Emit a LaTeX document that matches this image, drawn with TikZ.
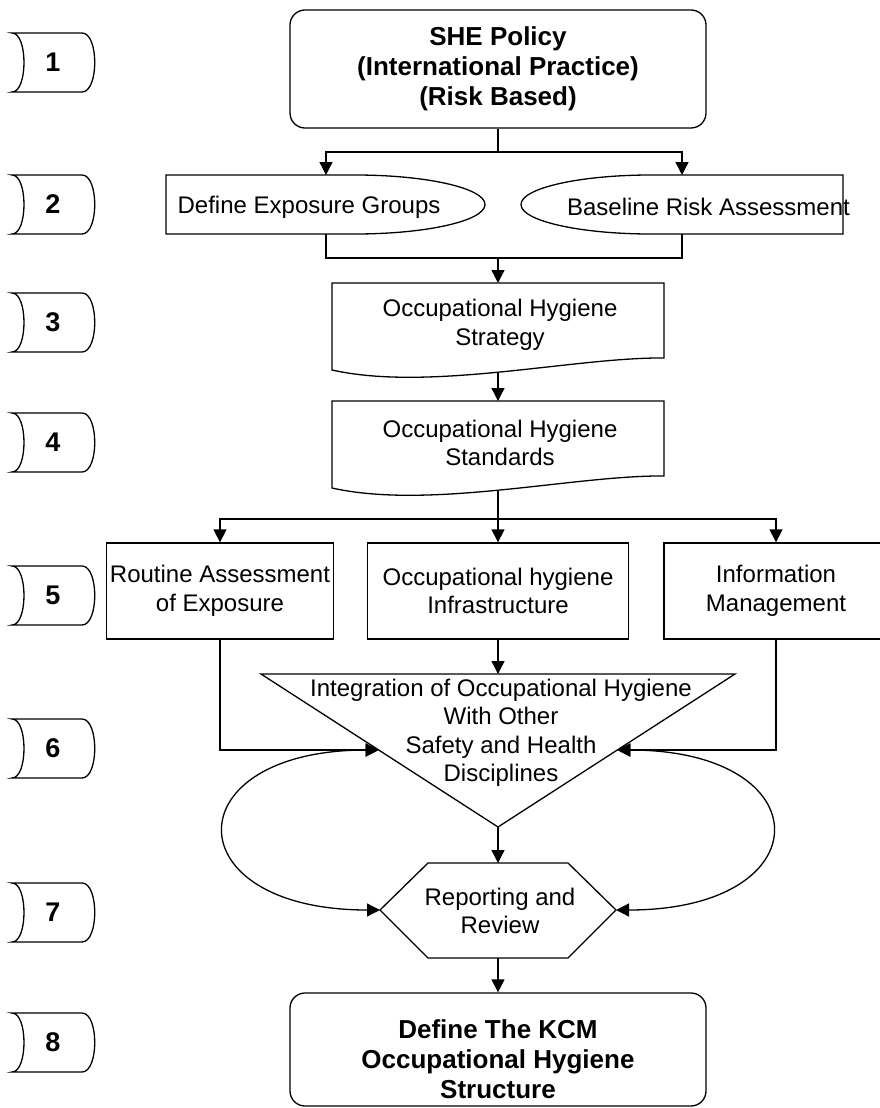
\documentclass[tikz,border=0pt]{standalone}
\usepackage{fontspec}
\setmainfont{Liberation Sans}
\usetikzlibrary{arrows.meta}
\begin{document}
\begin{tikzpicture}[x=1pt,y=-1pt,
  line width=1.3pt, line join=miter,
  arr/.style={-{Triangle[length=13pt,width=13pt]}},
  dbl/.style={{Triangle[length=13pt,width=13pt]}-{Triangle[length=13pt,width=13pt]}},
  body/.style={font=\fontsize{24}{28.5}\selectfont, align=center, inner sep=0pt},
  head/.style={font=\fontsize{26}{30}\selectfont\bfseries, align=center, inner sep=0pt},
  tabnum/.style={font=\fontsize{27}{30}\selectfont\bfseries, inner sep=0pt},
  plainbox/.style={draw, rectangle, inner sep=0pt},
  roundbox/.style={draw, rectangle, rounded corners=15pt, inner sep=0pt},
]
\useasboundingbox (0,0) rectangle (880,1108);
\clip (0,0) rectangle (880,1108);

% step number tabs down the left margin
\foreach \n/\t in {1/33, 2/175, 3/293, 4/413, 5/566, 6/719, 7/883, 8/1013} {
  \draw (12,\t) -- (82,\t) .. controls (99,\t) and (99,\t+59) .. (82,\t+59)
        -- (12,\t+59) .. controls (28,\t+59) and (28,\t) .. (12,\t) -- cycle;
  \node[tabnum] (tab\n) at (53,\t+29.5) {\n};
}

% step 1: policy
\node[roundbox, head, minimum width=416pt, minimum height=118pt] (she) at (498,69)
  {SHE Policy\\(International Practice)\\(Risk Based)};

% step 2: exposure groups and baseline assessment
\draw (166,175) -- (355,175)
  arc[start angle=90, end angle=-90, x radius=130pt, y radius=29.5pt]
  -- (166,234) -- cycle;
\node[body, anchor=west] (deg) at (177,207) {Define Exposure Groups};
\coordinate (degtop) at (326,175);
\coordinate (degbot) at (326,234);

\draw (843,175) -- (651,175)
  arc[start angle=90, end angle=270, x radius=130pt, y radius=29.5pt]
  -- (843,234) -- cycle;
\node[body] (bra) at (708.5,207) {Baseline Risk Assessment};
\coordinate (bratop) at (682,175);
\coordinate (brabot) at (682,234);

\coordinate (split1) at (498,152);
\coordinate (join2) at (498,258);
\draw (she.south) -- (split1);
\draw[arr] (split1) -| (degtop);
\draw[arr] (split1) -| (bratop);
\draw (degbot) |- (join2) -| (brabot);

% steps 3 and 4: document shapes
\draw (332,283) -- (664,283) -- (664,358)
  .. controls (575,357) and (430,392) .. (332,370) -- cycle;
\node[body] (strat) at (500,325) {Occupational Hygiene\\Strategy};
\coordinate (strattop) at (498,283);
\coordinate (stratbot) at (498,372);

\draw (332,401) -- (664,401) -- (664,476)
  .. controls (575,475) and (430,510) .. (332,488) -- cycle;
\node[body] (std) at (500,443) {Occupational Hygiene\\Standards};
\coordinate (stdtop) at (498,401);
\coordinate (stdbot) at (498,490);

\draw[arr] (join2) -- (strattop);
\draw[arr] (stratbot) -- (stdtop);

% step 5: three programme elements
\node[plainbox, body, minimum width=227pt, minimum height=96pt] (routine) at (220,591)
  {Routine Assessment\\of Exposure};
\node[plainbox, body, minimum width=261pt, minimum height=96pt] (infra) at (498,591)
  {Occupational hygiene\\Infrastructure};
\node[plainbox, body, minimum width=224pt, minimum height=96pt] (info) at (776,591)
  {Information\\Management};

\coordinate (split5) at (498,519);
\draw (stdbot) -- (split5);
\draw[arr] (split5) -- (infra.north);
\draw[arr] (split5) -| (routine.north);
\draw[arr] (split5) -| (info.north);

% step 6: integration (inverted triangle)
\coordinate (triTL) at (261,674);
\coordinate (triTR) at (735,674);
\coordinate (triB) at (498,827);
\coordinate (triTop) at (498,674);
\coordinate (triL) at (378.7,750);
\coordinate (triR) at (617.3,750);
\draw (triTL) -- (triTR) -- (triB) -- cycle;
\node[body] (integ) at (501,733)
  {Integration of Occupational Hygiene\\With Other\\Safety and Health\\Disciplines};

\draw[arr] (infra.south) -- (triTop);
\draw[arr] (routine.south) |- (triL);
\draw[arr] (info.south) |- (triR);

% step 7: reporting and review (hexagon)
\coordinate (hexL) at (380,910);
\coordinate (hexR) at (616,910);
\coordinate (hexT) at (498,863);
\coordinate (hexB) at (498,958);
\draw (hexL) -- (428,863) -- (568,863) -- (hexR) -- (568,958) -- (428,958) -- cycle;
\node[body] (review) at (500,911) {Reporting and\\Review};

\draw[arr] (triB) -- (hexT);
\draw[dbl] (triL) .. controls (173,750) and (173,910) .. (hexL);
\draw[dbl] (triR) .. controls (823,750) and (823,910) .. (hexR);

% step 8: structure
\node[roundbox, minimum width=416pt, minimum height=113pt] (kcm) at (498,1049.5) {};
\node[head] (kcmtext) at (498,1059) {Define The KCM\\Occupational Hygiene\\Structure};
\draw[arr] (hexB) -- (kcm.north);

\end{tikzpicture}
\end{document}
